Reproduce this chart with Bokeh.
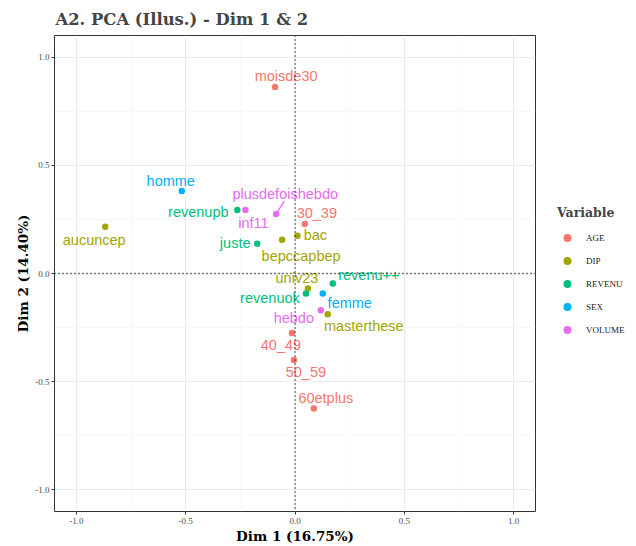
from bokeh.plotting import figure
from bokeh.layouts import row
from bokeh.models import (ColumnDataSource, Span, FixedTicker, Legend, LegendItem,
                          PrintfTickFormatter)
from bokeh.core.properties import value
from bokeh.embed import file_html
from bokeh.resources import INLINE

# ---- data ----
labels = ["moisde30", "30_39", "40_49", "50_59", "60etplus",
          "aucuncep", "bac", "bepccapbep", "univ23", "masterthese",
          "revenupb", "juste", "revenu++", "revenuok",
          "homme", "femme",
          "plusdefoishebdo", "inf11", "hebdo"]
dim1 = [-0.091, 0.045, -0.014, -0.005, 0.086,
        -0.868, 0.011, -0.059, 0.059, 0.150,
        -0.264, -0.173, 0.173, 0.050,
        -0.518, 0.127,
        -0.086, -0.227, 0.118]
dim2 = [0.862, 0.229, -0.275, -0.400, -0.624,
        0.216, 0.174, 0.156, -0.069, -0.188,
        0.294, 0.138, -0.046, -0.092,
        0.381, -0.092,
        0.275, 0.294, -0.170]
variable = ["AGE", "AGE", "AGE", "AGE", "AGE",
            "DIP", "DIP", "DIP", "DIP", "DIP",
            "REVENU", "REVENU", "REVENU", "REVENU",
            "SEX", "SEX",
            "VOLUME", "VOLUME", "VOLUME"]
categories = ["AGE", "DIP", "REVENU", "SEX", "VOLUME"]
palette = ["#F8766D", "#A3A500", "#00BF7D", "#00B0F6", "#E76BF3"]

# label offsets (screen px, repel-like placement)
label_dx = [11, 12, -11, 12, 12,
            -11, 18, 19, -11, 36,
            -39, -22, 36, -36,
            -11, 27,
            9, 8, -27]
label_dy = [-11, -11, 12, 12, -11,
            13, -1, 16, -10, 12,
            2, -1, -8, 5,
            -10, 10,
            -20, 13, 8]

colmap = dict(zip(categories, palette))
colors = [colmap[v] for v in variable]

SERIF_B = "DejaVu Serif"
SERIF = "Liberation Serif"
SANS = "Liberation Sans"

p = figure(width=536, height=546, x_range=(-1.1, 1.1), y_range=(-1.1, 1.1),
           output_backend="svg", toolbar_location=None,
           min_border_left=54, min_border_right=1, min_border_top=32, min_border_bottom=33,
           background_fill_color="white", border_fill_color="white")

p.title.text = "A2. PCA (Illus.) - Dim 1 & 2"
p.title.text_font = SERIF_B
p.title.text_font_size = "16.4px"
p.title.text_font_style = "bold"
p.title.align = "left"
p.title.offset = 1
p.title.standoff = 14

p.outline_line_color = "#333333"
p.outline_line_width = 1

ticks = [-1.0, -0.5, 0.0, 0.5, 1.0]
minor = [-0.75, -0.25, 0.25, 0.75]
for ax in (p.xaxis[0], p.yaxis[0]):
    ax.ticker = FixedTicker(ticks=ticks, minor_ticks=minor)
    ax.formatter = PrintfTickFormatter(format="%.1f")
    ax.axis_line_color = None
    ax.major_tick_in = 0
    ax.major_tick_out = 3
    ax.major_tick_line_color = "#333333"
    ax.minor_tick_line_color = None
    ax.major_label_text_font = SERIF
    ax.major_label_text_font_size = "9px"
    ax.major_label_text_color = "#4D4D4D"
    ax.axis_label_text_font = SERIF_B
    ax.axis_label_text_font_size = "13.5px"
    ax.axis_label_text_font_style = "bold"
    ax.axis_label_text_color = "black"
p.xaxis.major_label_standoff = 2
p.xaxis.axis_label_standoff = 1
p.yaxis.major_label_standoff = 1
p.yaxis.axis_label_standoff = 1
p.xaxis.axis_label = "Dim 1 (16.75%)"
p.yaxis.axis_label = "Dim 2 (14.40%)"

for g in (p.xgrid[0], p.ygrid[0]):
    g.ticker = FixedTicker(ticks=ticks, minor_ticks=minor)
    g.grid_line_color = "#EBEBEB"
    g.grid_line_width = 1
    g.minor_grid_line_color = "#F2F2F2"
    g.minor_grid_line_width = 0.6

p.add_layout(Span(location=0, dimension="width", line_color="black",
                  line_dash="1 3", line_width=1.3))
p.add_layout(Span(location=0, dimension="height", line_color="black",
                  line_dash="1 3", line_width=1.3))

PX_PER_UNIT = 481 / 2.2
seg_x0, seg_y0, seg_x1, seg_y1, seg_c = [], [], [], [], []
for i, lab in enumerate(labels):
    if abs(label_dy[i]) >= 18:
        seg_x0.append(dim1[i]); seg_y0.append(dim2[i])
        seg_x1.append(dim1[i] + 8 / PX_PER_UNIT)
        seg_y1.append(dim2[i] + 13 / PX_PER_UNIT)
        seg_c.append(colors[i])
p.segment(x0=seg_x0, y0=seg_y0, x1=seg_x1, y1=seg_y1, line_color=seg_c, line_width=1.3)

group_sources = {}
for cat in categories:
    idx = [i for i, v in enumerate(variable) if v == cat]
    src = ColumnDataSource(dict(x=[dim1[i] for i in idx], y=[dim2[i] for i in idx]))
    group_sources[cat] = src
    p.scatter("x", "y", source=src, size=6.5, color=colmap[cat], line_width=0)

tsrc = ColumnDataSource(dict(x=dim1, y=dim2, t=labels, c=colors, dx=label_dx, dy=label_dy))
p.text("x", "y", text="t", source=tsrc, text_color="c", x_offset="dx", y_offset="dy",
       text_align="center", text_baseline="middle", text_font=value(SANS),
       text_font_size="14.5px")

# ---- legend panel (separate canvas to the right; its data lie outside its view) ----
lg = figure(width=100, height=546, x_range=(50, 51), y_range=(50, 51),
            output_backend="svg", toolbar_location=None,
            min_border_left=0, min_border_right=0, min_border_top=0, min_border_bottom=0,
            outline_line_color=None, background_fill_color="white", border_fill_color="white")
lg.axis.visible = False
lg.grid.visible = False
items = []
for cat in categories:
    r = lg.scatter("x", "y", source=group_sources[cat], size=6.5, color=colmap[cat], line_width=0)
    items.append(LegendItem(label=cat, renderers=[r]))
legend = Legend(items=items, location="left", title="Variable",
                title_text_font=SERIF_B, title_text_font_style="bold", title_text_font_size="12.5px",
                label_text_font=SERIF, label_text_font_size="9px", label_text_color="#1a1a1a",
                glyph_width=20, glyph_height=23, label_height=23, spacing=0,
                label_standoff=9, padding=0, margin=21, title_standoff=6,
                border_line_color=None, background_fill_alpha=0)
lg.add_layout(legend)

layout = row(p, lg, spacing=0)
open("out.html", "w").write(file_html(layout, INLINE))
